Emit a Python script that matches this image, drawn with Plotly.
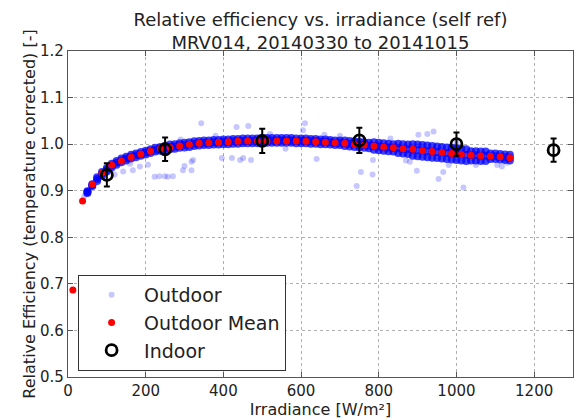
import plotly.graph_objects as go

# ---------------- data ----------------
band_x = [50, 62.5, 75, 87.5, 100, 112.5, 125, 137.5,
          150, 162.5, 175, 187.5, 200, 212.5, 225, 237.5,
          250, 262.5, 275, 287.5, 300, 312.5, 325, 337.5,
          350, 362.5, 375, 387.5, 400, 412.5, 425, 437.5,
          450, 462.5, 475, 487.5, 500, 512.5, 525, 537.5,
          550, 562.5, 575, 587.5, 600, 612.5, 625, 637.5,
          650, 662.5, 675, 687.5, 700, 712.5, 725, 737.5,
          750, 762.5, 775, 787.5, 800, 812.5, 825, 837.5,
          850, 862.5, 875, 887.5, 900, 912.5, 925, 937.5,
          950, 962.5, 975, 987.5, 1000, 1012.5, 1025, 1037.5,
          1050, 1062.5, 1075, 1087.5, 1100, 1112.5, 1125, 1137.5]
band_mid = [0.897, 0.912, 0.925, 0.936, 0.945, 0.954, 0.960, 0.965,
            0.969, 0.973, 0.976, 0.979, 0.982, 0.985, 0.988, 0.990,
            0.992, 0.994, 0.995, 0.997, 0.998, 0.999, 1.001, 1.002,
            1.003, 1.003, 1.004, 1.004, 1.005, 1.005, 1.006, 1.006,
            1.007, 1.007, 1.007, 1.007, 1.008, 1.008, 1.008, 1.008,
            1.008, 1.008, 1.008, 1.007, 1.007, 1.007, 1.006, 1.006,
            1.005, 1.005, 1.004, 1.003, 1.003, 1.002, 1.001, 1.000,
            0.999, 0.998, 0.997, 0.996, 0.995, 0.994, 0.993, 0.992,
            0.991, 0.990, 0.989, 0.988, 0.987, 0.986, 0.985, 0.984,
            0.983, 0.982, 0.981, 0.980, 0.979, 0.978, 0.977, 0.976,
            0.976, 0.975, 0.975, 0.974, 0.974, 0.973, 0.972, 0.971]
band_hi = [0.899, 0.914, 0.929, 0.940, 0.949, 0.958, 0.964, 0.969,
           0.973, 0.977, 0.980, 0.983, 0.986, 0.989, 0.992, 0.994,
           0.996, 0.999, 1.000, 1.002, 1.003, 1.004, 1.006, 1.007,
           1.008, 1.008, 1.009, 1.009, 1.010, 1.010, 1.011, 1.011,
           1.012, 1.012, 1.012, 1.012, 1.013, 1.013, 1.013, 1.013,
           1.013, 1.013, 1.013, 1.012, 1.012, 1.012, 1.011, 1.011,
           1.010, 1.010, 1.009, 1.008, 1.008, 1.008, 1.007, 1.006,
           1.005, 1.004, 1.003, 1.004, 1.003, 1.002, 1.001, 1.000,
           1.001, 1.000, 0.999, 1.000, 0.999, 0.998, 0.997, 0.996,
           0.995, 0.994, 0.993, 0.992, 0.991, 0.990, 0.989, 0.985,
           0.985, 0.984, 0.984, 0.980, 0.980, 0.979, 0.978, 0.977]
band_lo = [0.895, 0.910, 0.921, 0.932, 0.941, 0.950, 0.956, 0.961,
           0.965, 0.969, 0.972, 0.975, 0.978, 0.981, 0.984, 0.986,
           0.988, 0.989, 0.990, 0.992, 0.993, 0.994, 0.996, 0.997,
           0.998, 0.998, 0.999, 0.999, 1.000, 1.000, 1.001, 1.001,
           1.002, 1.002, 1.002, 1.002, 1.003, 1.003, 1.003, 1.003,
           1.003, 1.003, 1.003, 1.002, 1.002, 1.002, 1.001, 1.001,
           1.000, 1.000, 0.999, 0.998, 0.998, 0.996, 0.995, 0.994,
           0.993, 0.992, 0.991, 0.988, 0.987, 0.986, 0.985, 0.984,
           0.981, 0.980, 0.979, 0.975, 0.974, 0.973, 0.972, 0.971,
           0.970, 0.969, 0.968, 0.967, 0.966, 0.965, 0.964, 0.965,
           0.965, 0.964, 0.964, 0.968, 0.968, 0.967, 0.966, 0.965]

# sparse outdoor points (outliers / fringe)
sparse_x = [42, 47, 55, 120, 142, 167, 185, 206, 223, 235, 249, 257, 270,
            296, 300, 322, 318, 318, 343, 396, 422, 443, 451, 471, 434, 464,
            610, 605, 640, 754, 743, 784, 785, 898, 902, 925, 941, 954, 1018,
            1105, 1117, 966, 160, 380, 520, 560, 700, 830, 870, 1050, 1130,
            1000, 980, 290, 660, 880]
sparse_y = [0.888, 0.893, 0.902, 0.935, 0.941, 0.944, 0.952, 0.956, 0.930,
            0.931, 0.931, 0.930, 0.931, 0.944, 0.953, 0.966, 0.962, 0.944,
            1.045, 0.970, 0.970, 0.966, 0.970, 0.966, 1.037, 1.039, 1.045,
            1.030, 0.968, 0.940, 0.910, 0.935, 0.966, 0.943, 1.020, 1.022,
            1.027, 0.925, 0.907, 0.955, 0.952, 0.940, 0.958, 1.018, 1.022,
            0.990, 1.018, 1.012, 0.965, 0.955, 0.960, 1.004, 0.955, 1.010,
            1.020, 0.962]

mean_x = [12.5, 37.5, 62.5, 87.5, 112.5, 137.5, 162.5, 187.5, 212.5, 237.5,
          262.5, 287.5, 312.5, 337.5, 362.5, 387.5, 412.5, 437.5, 462.5, 487.5,
          512.5, 537.5, 562.5, 587.5, 612.5, 637.5, 662.5, 687.5, 712.5, 737.5,
          762.5, 787.5, 812.5, 837.5, 862.5, 887.5, 912.5, 937.5, 962.5, 987.5,
          1012.5, 1037.5, 1062.5, 1087.5, 1112.5, 1137.5]
mean_y = [0.687, 0.878, 0.914, 0.938, 0.955, 0.964, 0.972, 0.979, 0.985, 0.990,
          0.993, 0.996, 0.999, 1.002, 1.003, 1.004, 1.005, 1.006, 1.007, 1.007,
          1.007, 1.007, 1.007, 1.007, 1.006, 1.005, 1.004, 1.003, 1.002, 0.999,
          0.998, 0.996, 0.994, 0.992, 0.990, 0.989, 0.986, 0.984, 0.982, 0.980,
          0.978, 0.976, 0.975, 0.974, 0.973, 0.971]

indoor_x = [100, 250, 500, 750, 1000, 1250]
indoor_y = [0.934, 0.989, 1.007, 1.008, 1.000, 0.987]
indoor_err = [0.025, 0.025, 0.026, 0.027, 0.025, 0.025]

x_ticks = [0, 200, 400, 600, 800, 1000, 1200]
y_ticks = [0.5, 0.6, 0.7, 0.8, 0.9, 1.0, 1.1, 1.2]

FONT = "DejaVu Sans"

# ---------------- figure ----------------
fig = go.Figure()

core_x = band_x + band_x + band_x
core_y = band_lo + band_mid + band_hi
fig.add_trace(go.Scatter(
    x=core_x, y=core_y, mode="markers", legendgroup="out", showlegend=False,
    marker=dict(size=8, color="rgba(0,0,255,0.75)", line=dict(width=0)),
    hoverinfo="skip"))

fig.add_trace(go.Scatter(
    x=sparse_x, y=sparse_y, mode="markers", name="Outdoor", legendgroup="out",
    marker=dict(size=6, color="rgba(0,0,255,0.22)", line=dict(width=0))))

fig.add_trace(go.Scatter(
    x=mean_x, y=mean_y, mode="markers", name="Outdoor Mean",
    marker=dict(size=7, color="#ff0000", line=dict(width=0))))

fig.add_trace(go.Scatter(
    x=indoor_x, y=indoor_y, mode="markers", name="Indoor",
    marker=dict(size=11, color="black", symbol="circle-open",
                line=dict(width=2.8, color="black")),
    error_y=dict(type="data", array=indoor_err, visible=True,
                 color="black", thickness=2, width=3)))

axis_common = dict(
    showline=True, linecolor="#555", linewidth=1.2, mirror="ticks",
    ticks="inside", ticklen=5, tickcolor="#555", tickwidth=1,
    showgrid=True, gridcolor="#b0b0b0", griddash="dot", gridwidth=1,
    zeroline=False, tickfont=dict(family=FONT, size=15, color="#222"),
)

fig.update_xaxes(range=[0, 1300], tickvals=x_ticks,
                 ticktext=[str(v) for v in x_ticks],
                 title=dict(text="Irradiance [W/m²]", standoff=4,
                            font=dict(family=FONT, size=16, color="#222")),
                 **axis_common)
fig.update_yaxes(range=[0.5, 1.2], tickvals=y_ticks,
                 ticktext=[f"{v:.1f}" for v in y_ticks],
                 title=dict(text="Relative Efficiency (temperature corrected) [-]",
                            standoff=0,
                            font=dict(family=FONT, size=16, color="#222")),
                 **axis_common)

fig.update_layout(
    width=575, height=419,
    margin=dict(l=68, r=2, t=51, b=42, autoexpand=False),
    paper_bgcolor="white", plot_bgcolor="white",
    font=dict(family=FONT, color="#222"),
    title=dict(text="Relative efficiency vs. irradiance (self ref)<br>MRV014, 20140330 to 20141015",
               x=0.5, xref="paper", xanchor="center",
               y=1 - 26 / 419, yref="container", yanchor="top",
               font=dict(family=FONT, size=18, color="#222")),
    legend=dict(x=0.02, y=0.313, xanchor="left", yanchor="top",
                bgcolor="white", bordercolor="#333", borderwidth=1,
                font=dict(family=FONT, size=19, color="#222"),
                itemwidth=55, tracegroupgap=0),
    showlegend=True,
)

fig.write_html("out.html", config={"displayModeBar": False},
               post_script="document.body.style.margin='0px';document.body.style.padding='0px';")
